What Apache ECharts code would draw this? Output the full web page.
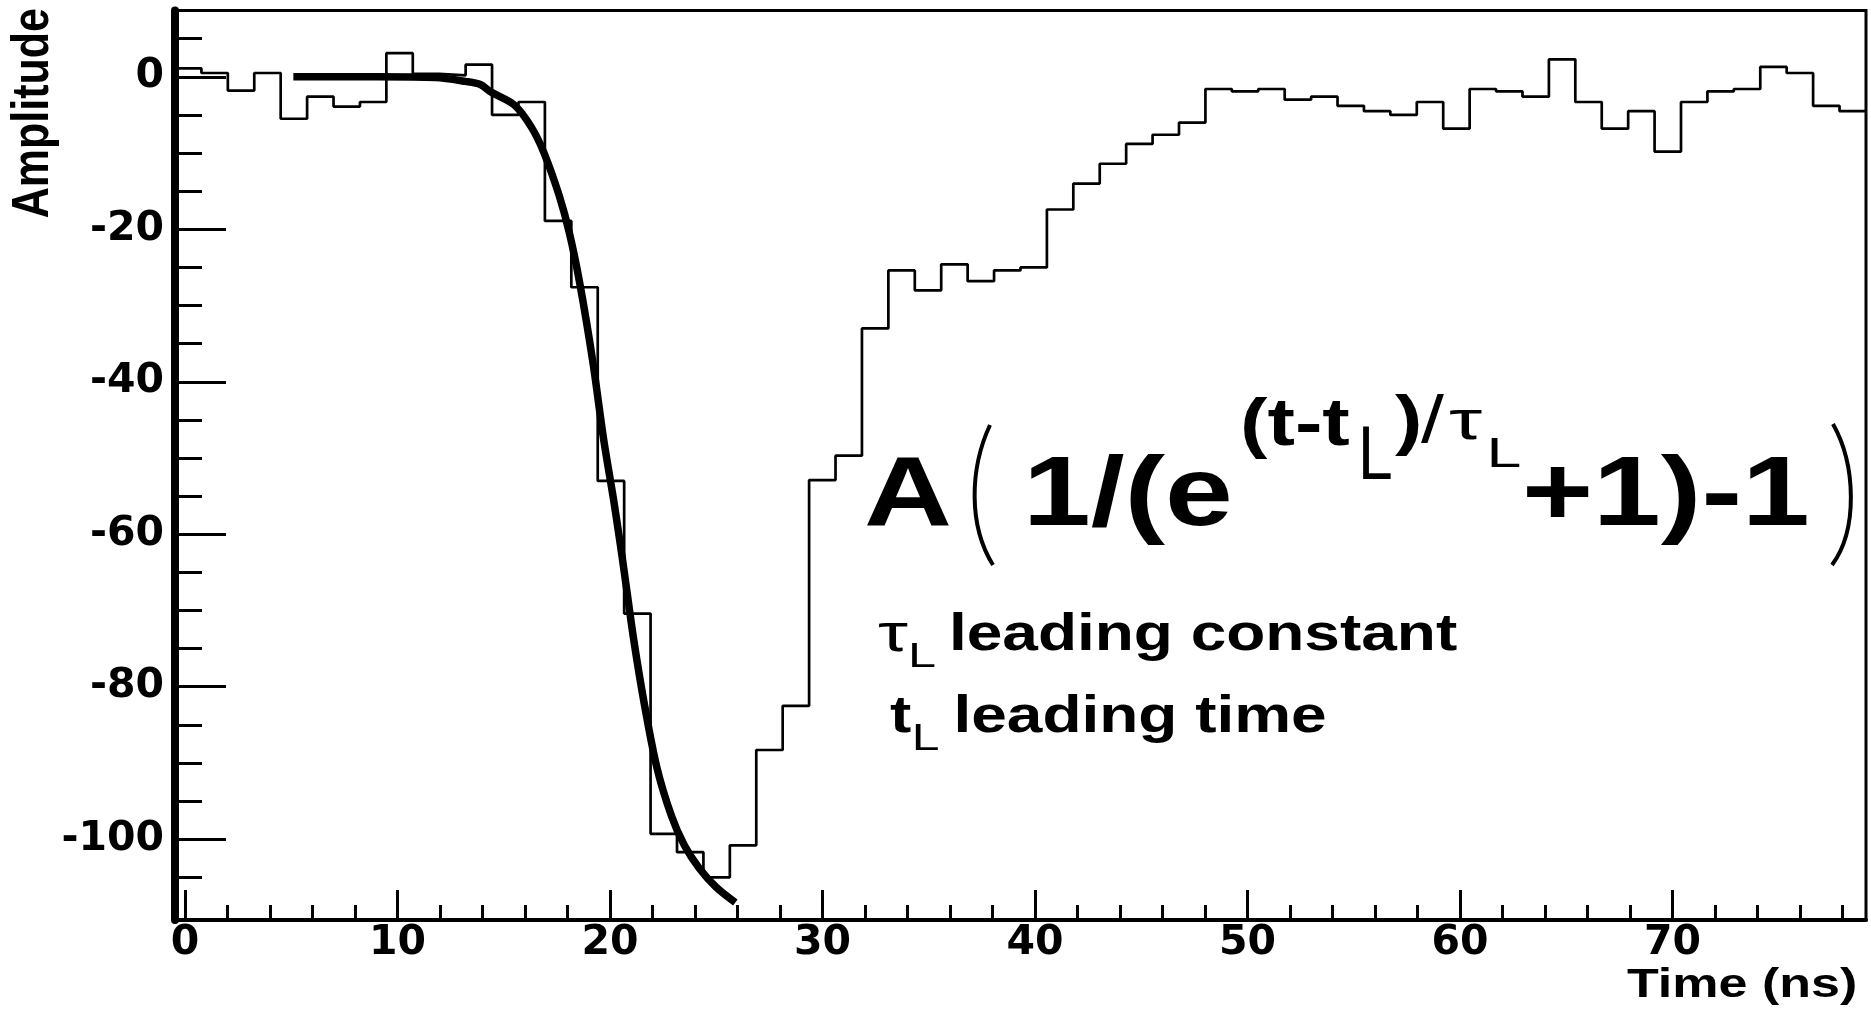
<!DOCTYPE html>
<html><head><meta charset="utf-8">
<script src="https://cdn.jsdelivr.net/npm/echarts@6/dist/echarts.min.js"></script>
<style>html,body{margin:0;padding:0;background:#fff}#c{width:1871px;height:1010px}</style>
</head><body><div id="c"></div>
<script>
// ---- data ----
const binStart = -0.47;      // left edge of first bin (ns)
const binWidth = 1.2434;     // bin width (ns), 64 bins
const amplitude = [
  1.1, 0.5, -1.8, 0.5, -5.5, -2.6, -3.9, -3.3, 3.1, 0.4,
  0.2, 1.6, -5.0, -3.3, -18.9, -27.6, -53.0, -70.4, -99.3, -101.7,
  -105.0, -100.8, -88.3, -82.5, -52.9, -49.7, -33.0, -25.4, -28.0, -24.6,
  -26.8, -25.4, -25.0, -17.4, -14.0, -11.4, -8.8, -7.6, -6.0, -1.6,
  -1.9, -1.6, -3.0, -2.6, -3.8, -4.5, -5.0, -3.3, -6.8, -1.6,
  -1.9, -2.6, 2.3, -3.3, -6.8, -4.5, -9.8, -3.3, -1.9, -1.6,
  1.3, 0.5, -3.8, -4.5
];
const fitTime = [5.1, 9.0, 11.8, 13.2, 13.9, 14.4, 15.5, 16.3, 16.9, 17.6, 18.1, 18.6, 19.2, 19.7, 20.2, 20.6, 21.1, 21.6, 22.2, 22.9, 23.5, 24.2, 25.0, 25.9];
const fitAmplitude = [0, 0, -0.1, -0.6, -1.0, -2.0, -3.7, -6.6, -10.0, -15.5, -20.6, -27.4, -37.5, -47.5, -56.0, -63.5, -73.5, -82.0, -90.5, -97.0, -100.8, -103.8, -106.3, -108.3];
const xRange = [-0.47, 79.11];
const yRange = [-110.6, 8.7];
const xMajorTicks = [0, 10, 20, 30, 40, 50, 60, 70];
const xMinorTicks = [0, 2, 4, 6, 8, 10, 12, 14, 16, 18, 20, 22, 24, 26, 28, 30, 32, 34, 36, 38, 40, 42, 44, 46, 48, 50, 52, 54, 56, 58, 60, 62, 64, 66, 68, 70, 72, 74, 76, 78];
const yMajorTicks = [-100, -80, -60, -40, -20, 0];
const yMinorTicks = [-105, -100, -95, -90, -85, -80, -75, -70, -65, -60, -55, -50, -45, -40, -35, -30, -25, -20, -15, -10, -5, 0, 5];

// ---- build series data ----
const histPoints = amplitude.map((v, i) => [binStart + i * binWidth, v]);
histPoints.push([binStart + amplitude.length * binWidth, amplitude[amplitude.length - 1]]);
const fitPoints = fitTime.map((t, i) => [t, fitAmplitude[i]]);

const chart = echarts.init(document.getElementById('c'), null, {renderer: 'canvas'});
const tickFont = {fontFamily: 'DejaVu Sans', fontWeight: 'bold', fontSize: 41, color: '#000'};
const FF = '"Liberation Sans", Arial, sans-serif';
function T(text, x, y, size, weight, sx, sy) {
  return {type: 'text', x: x, y: y, scaleX: sx || 1, scaleY: sy || 1, silent: true, z: 10,
    style: {text: text, font: weight + ' ' + size + 'px ' + FF, fill: '#000', align: 'left', verticalAlign: 'middle'}};
}

const option = {
  animation: false,
  backgroundColor: '#fff',
  grid: {left: 175, right: 5, top: 10.5, bottom: 90, show: true, borderColor: '#000', borderWidth: 3,
         backgroundColor: 'transparent', outerBoundsMode: 'none'},
  xAxis: [
    {type: 'value', min: xRange[0], max: xRange[1], position: 'bottom',
     axisLine: {onZero: false, lineStyle: {color: '#000', width: 4}},
     axisTick: {inside: true, length: 30, lineStyle: {color: '#000', width: 3}, customValues: xMajorTicks},
     axisLabel: Object.assign({customValues: xMajorTicks, margin: 3}, tickFont),
     splitLine: {show: false}},
    {type: 'value', min: xRange[0], max: xRange[1], position: 'bottom',
     axisLine: {show: false, onZero: false},
     axisTick: {inside: true, length: 15, lineStyle: {color: '#000', width: 3}, customValues: xMinorTicks},
     axisLabel: {show: false}, splitLine: {show: false}}
  ],
  yAxis: [
    {type: 'value', min: yRange[0], max: yRange[1], position: 'left',
     axisLine: {onZero: false, lineStyle: {color: '#000', width: 8}},
     axisTick: {inside: true, length: 51, lineStyle: {color: '#000', width: 3}, customValues: yMajorTicks},
     axisLabel: Object.assign({customValues: yMajorTicks, margin: 11}, tickFont),
     splitLine: {show: false}},
    {type: 'value', min: yRange[0], max: yRange[1], position: 'left',
     axisLine: {show: false, onZero: false},
     axisTick: {inside: true, length: 27, lineStyle: {color: '#000', width: 3}, customValues: yMinorTicks},
     axisLabel: {show: false}, splitLine: {show: false}}
  ],
  series: [
    {type: 'line', name: 'Amplitude', data: histPoints, step: 'end', symbol: 'none',
     xAxisIndex: 0, yAxisIndex: 0, lineStyle: {color: '#000', width: 2.7}, z: 3},
    {type: 'line', name: 'Fit', data: fitPoints, smooth: 0.3, symbol: 'none',
     xAxisIndex: 0, yAxisIndex: 0, lineStyle: {color: '#000', width: 7.5}, z: 4}
  ],
  graphic: [
    {type: 'text', x: 33.5, y: 8, rotation: Math.PI / 2, scaleY: 1.2, silent: true,
     style: {text: 'Amplitude', font: 'bold 43px ' + FF, fill: '#000', align: 'right', verticalAlign: 'middle'}},
    T('Time (ns)', 1627, 986, 40, 'bold', 1.3),
    T('A', 864, 497.7, 99, 'bold', 1.23),
    {type: 'bezierCurve', silent: true, shape: {x1: 990, y1: 425, cpx1: 970, cpy1: 468, cpx2: 968, cpy2: 525, x2: 993, y2: 565},
     style: {stroke: '#000', lineWidth: 4, fill: null}},
    T('1/(e', 1023, 497.7, 99, 'bold', 1.23),
    T('(t-t', 1240, 426.8, 67, 'bold', 1.23),
    T('L', 1358, 457.5, 48, 'normal', 1.3, 1.6),
    T(')', 1395, 423.8, 67, 'bold', 1.23),
    T('/', 1421, 423.8, 67, 'normal', 1.23),
    T('τ', 1449, 424, 56, 'normal', 1.5),
    T('L', 1486.4, 455, 42, 'normal', 1.49),
    T('+1)-1', 1522, 497.7, 99, 'bold', 1.23),
    {type: 'bezierCurve', silent: true, shape: {x1: 1833, y1: 424, cpx1: 1856, cpy1: 465, cpx2: 1858, cpy2: 530, x2: 1832, y2: 565},
     style: {stroke: '#000', lineWidth: 4, fill: null}},
    T('τ', 878, 636, 54, 'normal', 1.4),
    T('L', 908, 657, 35, 'normal', 1.44),
    T('leading constant', 949, 635.6, 52, 'bold', 1.23),
    T('t', 890, 717.7, 52, 'bold', 1.23),
    T('L', 911.7, 740.2, 37, 'normal', 1.35),
    T('leading time', 953.5, 717.7, 52, 'bold', 1.23)
  ]
};
chart.setOption(option);
</script>
</body></html>
